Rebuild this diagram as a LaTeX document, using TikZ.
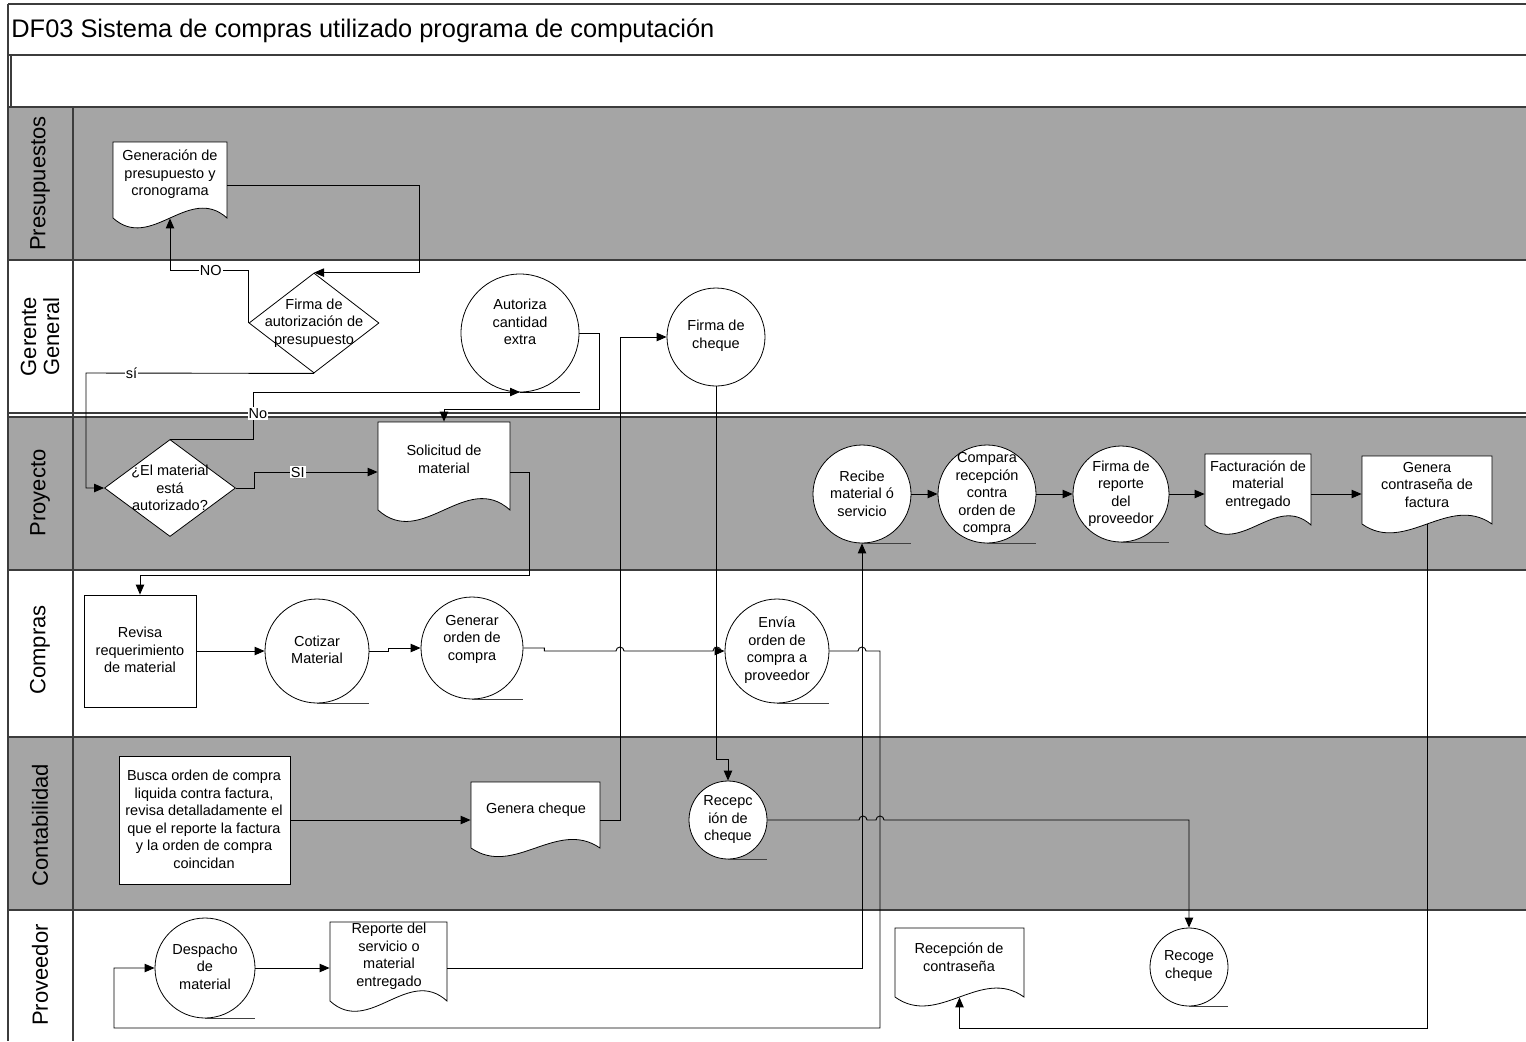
\documentclass[tikz,border=0pt]{standalone}
\usepackage{fontspec}
\setmainfont{Liberation Sans}
\usetikzlibrary{arrows.meta,shapes.geometric,calc,fit}
\definecolor{lanegray}{RGB}{165,165,165}
\definecolor{lanedark}{RGB}{60,60,60}
\tikzset{
 laneline/.style={draw=lanedark, line width=0.8pt},
 proc/.style={circle, draw, fill=white, line width=0.4pt, inner sep=0pt},
 boxstep/.style={rectangle, draw, fill=white, line width=0.4pt, inner sep=0pt},
 dec/.style={diamond, draw, fill=white, line width=0.4pt, inner sep=0pt},
 docfit/.style={inner sep=0pt, draw=none},
 docline/.style={draw, fill=white, line width=0.4pt},
 txt/.style={align=center, font=\fontsize{7.25}{8.75}\selectfont, inner sep=0pt},
 lbl/.style={fill=white, inner sep=0.6pt, font=\fontsize{7.25}{8.75}\selectfont},
 conn/.style={draw, line width=0.45pt},
 arr/.style={conn, -{Triangle[length=5pt,width=4.2pt]}},
 undl/.style={draw, line width=0.5pt, color=black!75},
 lanelabel/.style={rotate=90, align=center, font=\fontsize{11}{11.5}\selectfont, inner sep=0pt},
}
\newcommand\docshape[5]{%
 \path[docline] (#2,#3) -- (#4,#3) -- (#4,#5)
   .. controls ({#2+(#4-#2)*2/3},{#5-0.45*(#5-#3)}) and ({#2+(#4-#2)/3},{#5+0.45*(#5-#3)}) .. (#2,#5) -- cycle;
 \node[docfit, fit={(#2,#3) (#4,#5)}] (#1) {};
}
\begin{document}
\begin{tikzpicture}[x=0.5pt,y=-0.5pt]
\useasboundingbox (0,0) rectangle (1526,1041);
\fill[white] (0,0) rectangle (1526,1041);
% lanes
\fill[lanegray] (8,107) rectangle (1526,260);
\fill[lanegray] (8,417) rectangle (1526,570);
\fill[lanegray] (8,737) rectangle (1526,910);
\foreach \yy in {4,55,107,260,413,417,570,737,910}
  \draw[laneline] (8,\yy) -- (1526,\yy);
\draw[laneline] (8,4) -- (8,1041);
\draw[laneline] (11,55) -- (11,107);
\draw[laneline] (73,107) -- (73,1041);
\node[anchor=base west, font=\fontsize{12.7}{15}\selectfont, inner sep=0pt] (title) at (11,37) {DF03 Sistema de compras utilizado programa de computación};
\node[lanelabel] (L1) at (40,183.5) {Presupuestos};
\node[lanelabel] (L2) at (40,336.5) {Gerente\\General};
\node[lanelabel] (L3) at (40,493) {Proyecto};
\node[lanelabel] (L4) at (40,650) {Compras};
\node[lanelabel] (L5) at (40,825) {Contabilidad};
\node[lanelabel] (L6) at (40,975) {Proveedor};

% shapes
\docshape{dgen}{113}{142}{227}{218}
\node[dec, minimum width=65pt, minimum height=50pt] (d1) at (314,323) {};
\node[proc, minimum size=59pt] (aut) at (520,333) {};
\node[proc, minimum size=49pt] (fch) at (716,337) {};
\node[dec, minimum width=65.5pt, minimum height=48.5pt] (d2) at (170,488) {};
\docshape{dsol}{378}{422}{510}{510}
\node[proc, minimum size=49pt] (rec) at (862,494) {};
\node[proc, minimum size=49pt] (cmp) at (987,494) {};
\node[proc, minimum size=48pt] (frp) at (1121,494) {};
\docshape{dfac}{1205}{454}{1311}{525}
\docshape{dcon}{1362}{456}{1492}{524}
\node[boxstep, minimum width=56pt, minimum height=56pt] (rev) at (140,651) {};
\node[proc, minimum size=52pt] (cot) at (317,651) {};
\node[proc, minimum size=51pt] (gen) at (472,648) {};
\node[proc, minimum size=52pt] (env) at (777,651) {};
\node[boxstep, minimum width=85.5pt, minimum height=64pt] (bus) at (204.5,820) {};
\docshape{dchq}{471}{782}{600}{848}
\node[proc, minimum size=39pt] (rch) at (728,820) {};
\node[proc, minimum size=39pt] (rcg) at (1189,967) {};
\node[proc, minimum size=50pt] (des) at (205,968) {};
\docshape{drep}{330}{922}{447}{1001}
\docshape{drcn}{895}{928}{1024}{997}
\foreach \n in {rec,cmp,frp,cot,gen,env,rch,rcg,des}
  \draw[undl] (\n.south) -- (\n.south -| \n.east);

% connectors
\draw[arr] ([yshift=-2.5pt]dgen.east) -- ++(192,0) |- (d1.north);
\draw[arr] (d1.west) -- ++(0,-53) -| node[lbl,pos=0.24] (lno) {NO} (dgen.south);
\coordinate (c1) at (86,373);
\draw[arr] (d1.south) -- node[lbl,pos=0.8] (lsi) {sí} (c1) |- (d2.west);
\coordinate (c2) at (253,392);
\coordinate (c3) at (580,392);
\draw[arr] (d2.north) -| node[lbl,pos=0.77,xshift=2.5pt] (lno2) {No} (c2) -- (c2 -| aut.south);
\draw[conn] (c2 -| aut.south) -- (c3);
\coordinate (c4) at (599,409);
\draw[arr] (aut.east) -| (c4) -| (dsol.north);
\draw[arr] (d2.east) -- ++(19,0) |- node[lbl,pos=0.675] (lsi2) {SI} ([yshift=-3pt]dsol.west);
\coordinate (c5) at (529,575);
\draw[arr] ([yshift=-3pt]dsol.east) -| (c5) -| (rev.north);
\draw[arr] (rev.east) -- (cot.west);
\draw[arr] (cot.east) -- ++(19,0) |- (gen.west);
\draw[arr] (gen.east) -- ++(21,0) |- (616,651) arc[start angle=180,end angle=0,radius=2pt]
   -- (713,651) arc[start angle=180,end angle=0,radius=2pt] -- (env.west);
\draw[arr] (env.east) -- (858,651) arc[start angle=180,end angle=0,radius=2pt]
   -- (880,651) -- (880,1028) -- (114,1028) |- (des.west);
\draw[arr] (des.east) -- (des.east -| drep.west);
\draw[arr] (drep.east |- des.east) -| (rec.south);
\draw[arr] (rec.east) -- (cmp.west);
\draw[arr] (cmp.east) -- (frp.west);
\draw[arr] (frp.east) -- (frp.east -| dfac.west);
\draw[arr] (frp.east -| dfac.east) -- (frp.east -| dcon.west);
\draw[arr] (dcon.south) -- ++(0,504) -| (drcn.south);
\draw[arr] (bus.east) -- (bus.east -| dchq.west);
\draw[arr] (bus.east -| dchq.east) -- ++(20,0) |- (fch.west);
\draw[arr] (fch.south) |- ($(rch.north)+(0,-21)$) -- (rch.north);
\draw[arr] (rch.east) -- (859,820) arc[start angle=180,end angle=0,radius=2pt]
   -- (876,820) arc[start angle=180,end angle=0,radius=2pt] -- (884,820) -| (rcg.north);

% texts
\node[txt] (tgen) at (170,174.5) {Generación de\\presupuesto y\\cronograma};
\node[txt] (td1) at (314,323) {Firma de\\autorización de\\presupuesto};
\node[txt] (taut) at (520,322) {Autoriza\\cantidad\\extra};
\node[txt] (tfch) at (716,335.5) {Firma de\\cheque};
\node[txt] (td2) at (170,488) {¿El material\\está\\autorizado?};
\node[txt] (tsol) at (444,459.5) {Solicitud de\\material};
\node[txt] (trec) at (862,493.5) {Recibe\\material ó\\servicio};
\node[txt] (tcmp) at (987,494) {Compara\\recepción\\contra\\orden de\\compra};
\node[txt] (tfrp) at (1121,493.5) {Firma de\\reporte\\del\\proveedor};
\node[txt] (tfac) at (1258,485) {Facturación de\\material\\entregado};
\node[txt] (tcon) at (1427,484.5) {Genera\\contraseña de\\factura};
\node[txt] (trev) at (140,650) {Revisa\\requerimiento\\de material};
\node[txt] (tcot) at (317,650) {Cotizar\\Material};
\node[txt] (tgen2) at (472,639) {Generar\\orden de\\compra};
\node[txt] (tenv) at (777,650) {Envía\\orden de\\compra a\\proveedor};
\node[txt] (tbus) at (204,819.5) {Busca orden de compra\\liquida contra factura,\\revisa detalladamente el\\que el reporte la factura\\y la orden de compra\\coincidan};
\node[txt] (tchq) at (536,810) {Genera cheque};
\node[txt] (trch) at (728,819.5) {Recepc\\ión de\\cheque};
\node[txt] (trcg) at (1189,966) {Recoge\\cheque};
\node[txt] (tdes) at (205,966.5) {Despacho\\de\\material};
\node[txt] (trep) at (389,956) {Reporte del\\servicio o\\material\\entregado};
\node[txt] (trcn) at (959,957) {Recepción de\\contraseña};
\end{tikzpicture}
\end{document}
